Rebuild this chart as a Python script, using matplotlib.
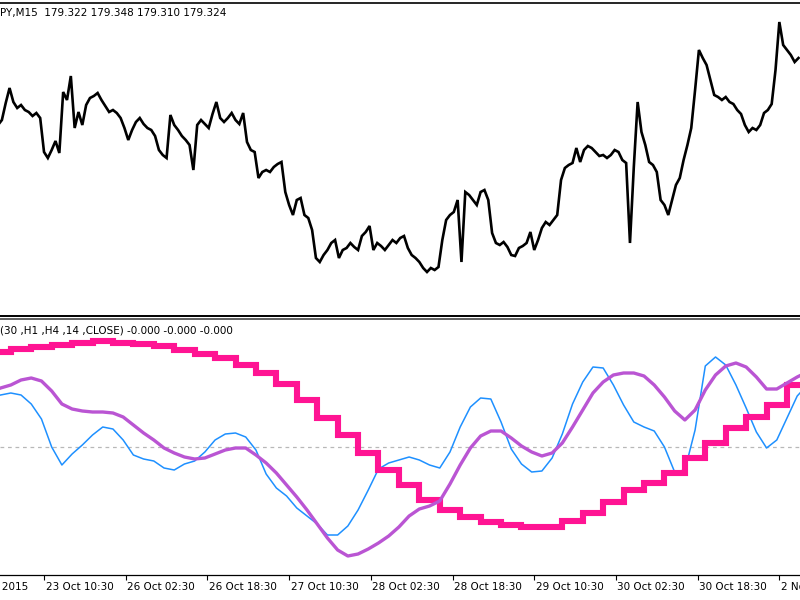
import matplotlib
matplotlib.use("Agg")
import matplotlib.pyplot as plt
from matplotlib.lines import Line2D
import numpy as np

# ---------------- data ----------------
# close price, sampled every 3 M15 bars starting at bar 6 (bar 0 = 23 Oct 00:00)
price = [184.25, 184.30, 184.47, 184.62, 184.48, 184.42, 184.45, 184.40, 184.38, 184.34,
         184.37, 184.32, 183.98, 183.92, 184.00, 184.09, 183.97, 184.58, 184.50, 184.74,
         184.22, 184.38, 184.25, 184.45, 184.52, 184.54, 184.57, 184.50, 184.44, 184.38,
         184.40, 184.37, 184.32, 184.22, 184.10, 184.20, 184.28, 184.32, 184.26, 184.22,
         184.20, 184.14, 184.00, 183.95, 183.92, 184.35, 184.25, 184.20, 184.14, 184.10,
         184.05, 183.80, 184.25, 184.30, 184.26, 184.22, 184.36, 184.48, 184.32, 184.28,
         184.32, 184.37, 184.30, 184.26, 184.37, 184.08, 184.00, 183.98, 183.72, 183.78,
         183.80, 183.78, 183.83, 183.86, 183.88, 183.58, 183.45, 183.35, 183.50, 183.52,
         183.35, 183.32, 183.20, 182.92, 182.88, 182.95, 183.00, 183.07, 183.10, 182.92,
         183.00, 183.02, 183.07, 183.03, 183.00, 183.14, 183.18, 183.24, 183.00, 183.07,
         183.04, 183.00, 183.05, 183.10, 183.07, 183.12, 183.14, 183.02, 182.95, 182.92,
         182.88, 182.82, 182.78, 182.82, 182.80, 182.83, 183.10, 183.30, 183.35, 183.38,
         183.50, 182.88, 183.58, 183.55, 183.50, 183.45, 183.58, 183.60, 183.50, 183.17,
         183.07, 183.05, 183.08, 183.03, 182.95, 182.94, 183.02, 183.04, 183.07, 183.18,
         183.00, 183.10, 183.22, 183.28, 183.25, 183.30, 183.35, 183.70, 183.82, 183.85,
         183.87, 184.02, 183.88, 184.00, 184.04, 184.02, 183.98, 183.94, 183.95, 183.92,
         183.95, 184.00, 183.98, 183.90, 183.87, 183.07, 183.83, 184.48, 184.18, 184.05,
         183.88, 183.85, 183.78, 183.50, 183.45, 183.35, 183.50, 183.65, 183.72, 183.90,
         184.05, 184.22, 184.60, 185.00, 184.92, 184.85, 184.70, 184.55, 184.53, 184.50,
         184.53, 184.48, 184.46, 184.40, 184.36, 184.25, 184.18, 184.22, 184.20, 184.25,
         184.37, 184.40, 184.46, 184.80, 185.28, 185.05, 185.00, 184.95, 184.88, 184.92]
price_bars = 6 + 3 * np.arange(len(price))

# indicator lines, sampled every 8 M15 bars starting at bar 0
line_m30 = [0.50, 0.52, 0.54, 0.52, 0.43, 0.28, 0.00, -0.18, -0.07, 0.02,
            0.12, 0.20, 0.18, 0.07, -0.08, -0.12, -0.14, -0.21, -0.23, -0.17,
            -0.14, -0.05, 0.07, 0.13, 0.14, 0.10, -0.03, -0.27, -0.41, -0.49,
            -0.61, -0.69, -0.77, -0.88, -0.88, -0.79, -0.63, -0.43, -0.22, -0.16,
            -0.13, -0.10, -0.13, -0.18, -0.21, -0.05, 0.20, 0.40, 0.49, 0.48,
            0.25, -0.02, -0.17, -0.25, -0.24, -0.11, 0.13, 0.43, 0.65, 0.80,
            0.79, 0.62, 0.42, 0.25, 0.20, 0.16, 0.00, -0.25, -0.23, 0.17,
            0.81, 0.90, 0.82, 0.62, 0.39, 0.15, -0.01, 0.07, 0.29, 0.51, 0.62]
line_h1 = [0.55, 0.59, 0.62, 0.67, 0.69, 0.66, 0.56, 0.43, 0.38, 0.36,
           0.35, 0.35, 0.34, 0.30, 0.22, 0.14, 0.07, -0.01, -0.06, -0.10,
           -0.12, -0.11, -0.07, -0.03, -0.01, -0.01, -0.08, -0.16, -0.26, -0.38,
           -0.50, -0.63, -0.77, -0.91, -1.03, -1.09, -1.07, -1.02, -0.96, -0.89,
           -0.80, -0.69, -0.62, -0.59, -0.54, -0.37, -0.18, -0.01, 0.11, 0.16,
           0.16, 0.09, 0.01, -0.05, -0.09, -0.06, 0.04, 0.20, 0.37, 0.54,
           0.65, 0.72, 0.74, 0.74, 0.71, 0.62, 0.50, 0.36, 0.27, 0.37,
           0.57, 0.72, 0.81, 0.84, 0.80, 0.70, 0.58, 0.58, 0.64, 0.70, 0.75]
ind_bars = 8 * np.arange(len(line_m30))

# H4 line, one value per H4 bar (16 M15 bars)
line_h4 = [0.95, 0.98, 1.00, 1.02, 1.04, 1.06, 1.04, 1.03, 1.01, 0.97,
           0.93, 0.89, 0.82, 0.74, 0.63, 0.47, 0.29, 0.12, -0.06, -0.23,
           -0.38, -0.53, -0.63, -0.70, -0.75, -0.78, -0.80, -0.80, -0.74, -0.66,
           -0.55, -0.43, -0.36, -0.26, -0.11, 0.04, 0.19, 0.30, 0.42, 0.62]
h4_bars = 16 * np.arange(len(line_h4) + 1)

tick_bars = [-22, 42, 106, 170, 234, 298, 362, 426, 490, 554, 618]
tick_labels = ["22 Oct 2015", "23 Oct 10:30", "26 Oct 02:30", "26 Oct 18:30",
               "27 Oct 10:30", "28 Oct 02:30", "28 Oct 18:30", "29 Oct 10:30",
               "30 Oct 02:30", "30 Oct 18:30", "2 Nov 10:30"]

header_top = "PY,M15  179.322 179.348 179.310 179.324"
header_bottom = "(30 ,H1 ,H4 ,14 ,CLOSE) -0.000 -0.000 -0.000"

# ---------------- layout ----------------
W, H = 800, 600
px_per_bar = 1.2766
bar0_px = -9.6
xmin = (0 - bar0_px) / px_per_bar
xmax = (W - bar0_px) / px_per_bar

def fy(y):
    return 1 - y / H

fig = plt.figure(figsize=(8, 6), dpi=100)
fig.patch.set_facecolor("white")

ax1 = fig.add_axes([0, fy(315), 1, (315 - 3) / H])
ax2 = fig.add_axes([0, fy(575), 1, (575 - 320) / H])

for ax in (ax1, ax2):
    ax.set_xlim(xmin, xmax)
    for s in ax.spines.values():
        s.set_visible(False)
    ax.set_yticks([])
    ax.set_facecolor("white")

# top panel
ax1.set_ylim(185.50 - 315 / 100, 185.50 - 3 / 100)
ax1.plot(price_bars, price, color="black", lw=1.9, solid_joinstyle="miter")
ax1.spines["top"].set_visible(True)
ax1.spines["top"].set_color("black")
ax1.spines["top"].set_linewidth(1.2)
ax1.set_xticks([])

# separator
fig.add_artist(Line2D([0, 1], [fy(315.8)] * 2, color="black", lw=1.4))
fig.add_artist(Line2D([0, 1], [fy(318.8)] * 2, color="#606060", lw=1.4))

# bottom panel
ax2.set_ylim((447 - 575) / 100, (447 - 320) / 100)
ax2.axhline(0, color="#b8b8b8", lw=0.9, dashes=(3, 3))
ax2.plot(ind_bars, line_m30, color="#1E90FF", lw=1.1, zorder=3)
ax2.step(h4_bars, line_h4 + [line_h4[-1]], where="post", color="#FF1493",
         lw=4.4, zorder=4, solid_joinstyle="miter")
ax2.plot(ind_bars, line_h1, color="#BA55D3", lw=2.4, zorder=5)

ax2.spines["bottom"].set_visible(True)
ax2.spines["bottom"].set_color("black")
ax2.spines["bottom"].set_linewidth(0.9)
ax2.set_xticks(tick_bars[1:])
ax2.set_xticklabels([])
ax2.tick_params(axis="x", direction="out", length=3.6, width=0.8, color="black")

for b, lab in zip(tick_bars, tick_labels):
    ax2.annotate(lab, xy=(b, 0), xycoords=("data", "axes fraction"),
                 xytext=(1.5, -7), textcoords="offset pixels",
                 ha="left", va="top", fontsize=7.5, color="black",
                 annotation_clip=False)

fig.text(0, fy(13), header_top, ha="left", va="center", fontsize=7.5, color="black")
fig.text(0, fy(330.5), header_bottom, ha="left", va="center", fontsize=7.5, color="black")

fig.savefig("out.png", dpi=100, facecolor="white")
